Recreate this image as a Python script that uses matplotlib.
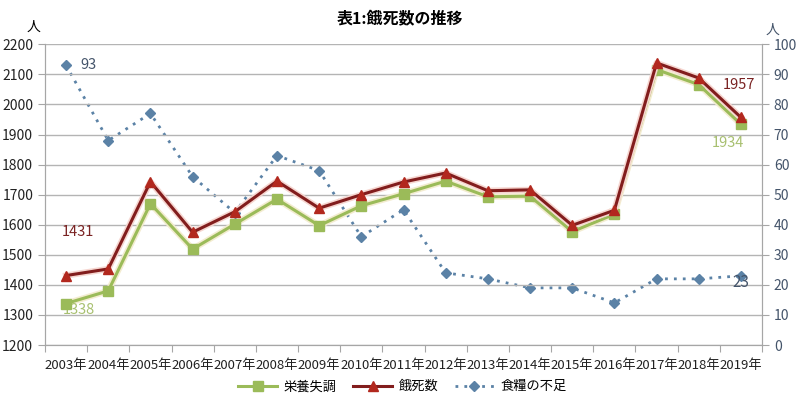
import matplotlib.pyplot as plt
import matplotlib.patheffects as pe
import numpy as np
from matplotlib.ticker import FixedLocator

plt.rcParams['font.family'] = ['Noto Sans CJK JP', 'DejaVu Sans']

years = ["2003年", "2004年", "2005年", "2006年", "2007年", "2008年", "2009年", "2010年", "2011年",
         "2012年", "2013年", "2014年", "2015年", "2016年", "2017年", "2018年", "2019年"]
malnutrition = [1338, 1380, 1670, 1519, 1602, 1685, 1597, 1663, 1703,
                1745, 1693, 1695, 1577, 1635, 2116, 2066, 1934]
starvation = [1431, 1453, 1743, 1575, 1643, 1745, 1655, 1700, 1742,
              1772, 1713, 1716, 1598, 1648, 2138, 2088, 1957]
food_shortage = [93, 68, 77, 56, 44, 63, 58, 36, 45, 24, 22, 19, 19, 14, 22, 22, 23]

GREEN = '#9bbb59'
RED = '#821d1d'
RED_MK = '#b2281e'
BLUE = '#5b82a6'
GRID = '#a6a6a6'

fig = plt.figure(figsize=(8, 4.08), dpi=100)
ax = fig.add_axes([0.05625, 0.1544, 0.89625, 0.737])
ax2 = ax.twinx()
x = np.arange(len(years))

# soft halo under the two solid lines
ax.plot(x, malnutrition, color=GREEN, lw=2.2, zorder=3,
        path_effects=[pe.Stroke(linewidth=4.5, foreground='#f3ecd0'), pe.Normal()])
ax.plot(x, starvation, color=RED, lw=2.2, zorder=4,
        path_effects=[pe.Stroke(linewidth=4.5, foreground='#f6d6d0'), pe.Normal()])
ax.plot(x, malnutrition, color=GREEN, ls='none', marker='s', markersize=6.5, zorder=3.5)
ax.plot(x, starvation, color=RED, ls='none', marker='^', markersize=7,
        markerfacecolor=RED_MK, markeredgecolor=RED_MK, zorder=4.5)
l3, = ax2.plot(x, food_shortage, color=BLUE, lw=2, ls=(0, (1, 2.2)), marker='D',
               markersize=5.5, label='食糧の不足', zorder=2)

h1, = ax.plot([], [], color=GREEN, lw=2.2, marker='s', markersize=6.5, label='栄養失調')
h2, = ax.plot([], [], color=RED, lw=2.2, marker='^', markersize=7,
              markerfacecolor=RED_MK, markeredgecolor=RED_MK, label='餓死数')

ax.set_ylim(1200, 2200)
ax.set_yticks(np.arange(1200, 2201, 100))
ax2.set_ylim(0, 100)
ax2.set_yticks(np.arange(0, 101, 10))
ax.set_xlim(-0.5, len(years) - 0.5)

ax.xaxis.set_major_locator(FixedLocator(np.arange(-0.5, len(years), 1.0)))
ax.xaxis.set_major_formatter(plt.NullFormatter())
ax.xaxis.set_minor_locator(FixedLocator(x))
ax.set_xticklabels(years, minor=True)
ax.tick_params(axis='x', which='major', length=5, color=GRID, direction='out')
ax.tick_params(axis='x', which='minor', length=0, labelsize=9.5, pad=10, colors='#222222')
ax.tick_params(axis='y', length=5, color=GRID, labelsize=10, colors='#222222')
ax2.tick_params(axis='y', length=5, color=GRID, labelsize=10, colors='#44546a')

ax.grid(axis='y', color='#b4b4b4', lw=1)
ax.set_axisbelow(True)
for a in (ax, ax2):
    a.spines['top'].set_visible(False)
    for s in ('left', 'right', 'bottom'):
        a.spines[s].set_color(GRID)
ax.set_zorder(ax2.get_zorder() + 1)
ax.patch.set_visible(False)

ax.annotate(str(food_shortage[0]), (x[0], food_shortage[0]), xycoords=ax2.transData,
            xytext=(14, 0), textcoords='offset pixels', va='center', fontsize=10.5, color='#44546a')
ax.annotate(str(food_shortage[-1]), (x[-1], food_shortage[-1]), xycoords=ax2.transData,
            xytext=(0, -7), textcoords='offset pixels', ha='center', va='center', fontsize=11, color='#44546a')
ax.annotate(str(starvation[0]), (x[0], starvation[0]), xytext=(-4, 44), textcoords='offset pixels',
            va='center', fontsize=10.5, color='#7a2323')
ax.annotate(str(malnutrition[0]), (x[0], malnutrition[0]), xytext=(-3, -6), textcoords='offset pixels',
            va='center', fontsize=10.5, color='#a8c070')
ax.annotate(str(starvation[-1]), (x[-1], starvation[-1]), xytext=(-2, 32), textcoords='offset pixels',
            ha='center', va='center', fontsize=10.5, color='#7a2323')
ax.annotate(str(malnutrition[-1]), (x[-1], malnutrition[-1]), xytext=(-13, -19), textcoords='offset pixels',
            ha='center', va='center', fontsize=10.5, color='#a8c070')

fig.text(0.5, 0.955, '表1:餓死数の推移', ha='center', va='center', fontsize=11.5, fontweight='bold')
fig.text(0.042, 0.935, '人', ha='center', va='center', fontsize=10)
fig.text(0.965, 0.926, '人', ha='center', va='center', fontsize=10, color='#44546a')

fig.legend(handles=[h1, h2, l3], loc='center', bbox_to_anchor=(0.503, 0.052), ncol=3,
           frameon=False, fontsize=9.5, handlelength=3.0, columnspacing=1.2, handletextpad=0.5)

fig.savefig('out.png', dpi=100)
